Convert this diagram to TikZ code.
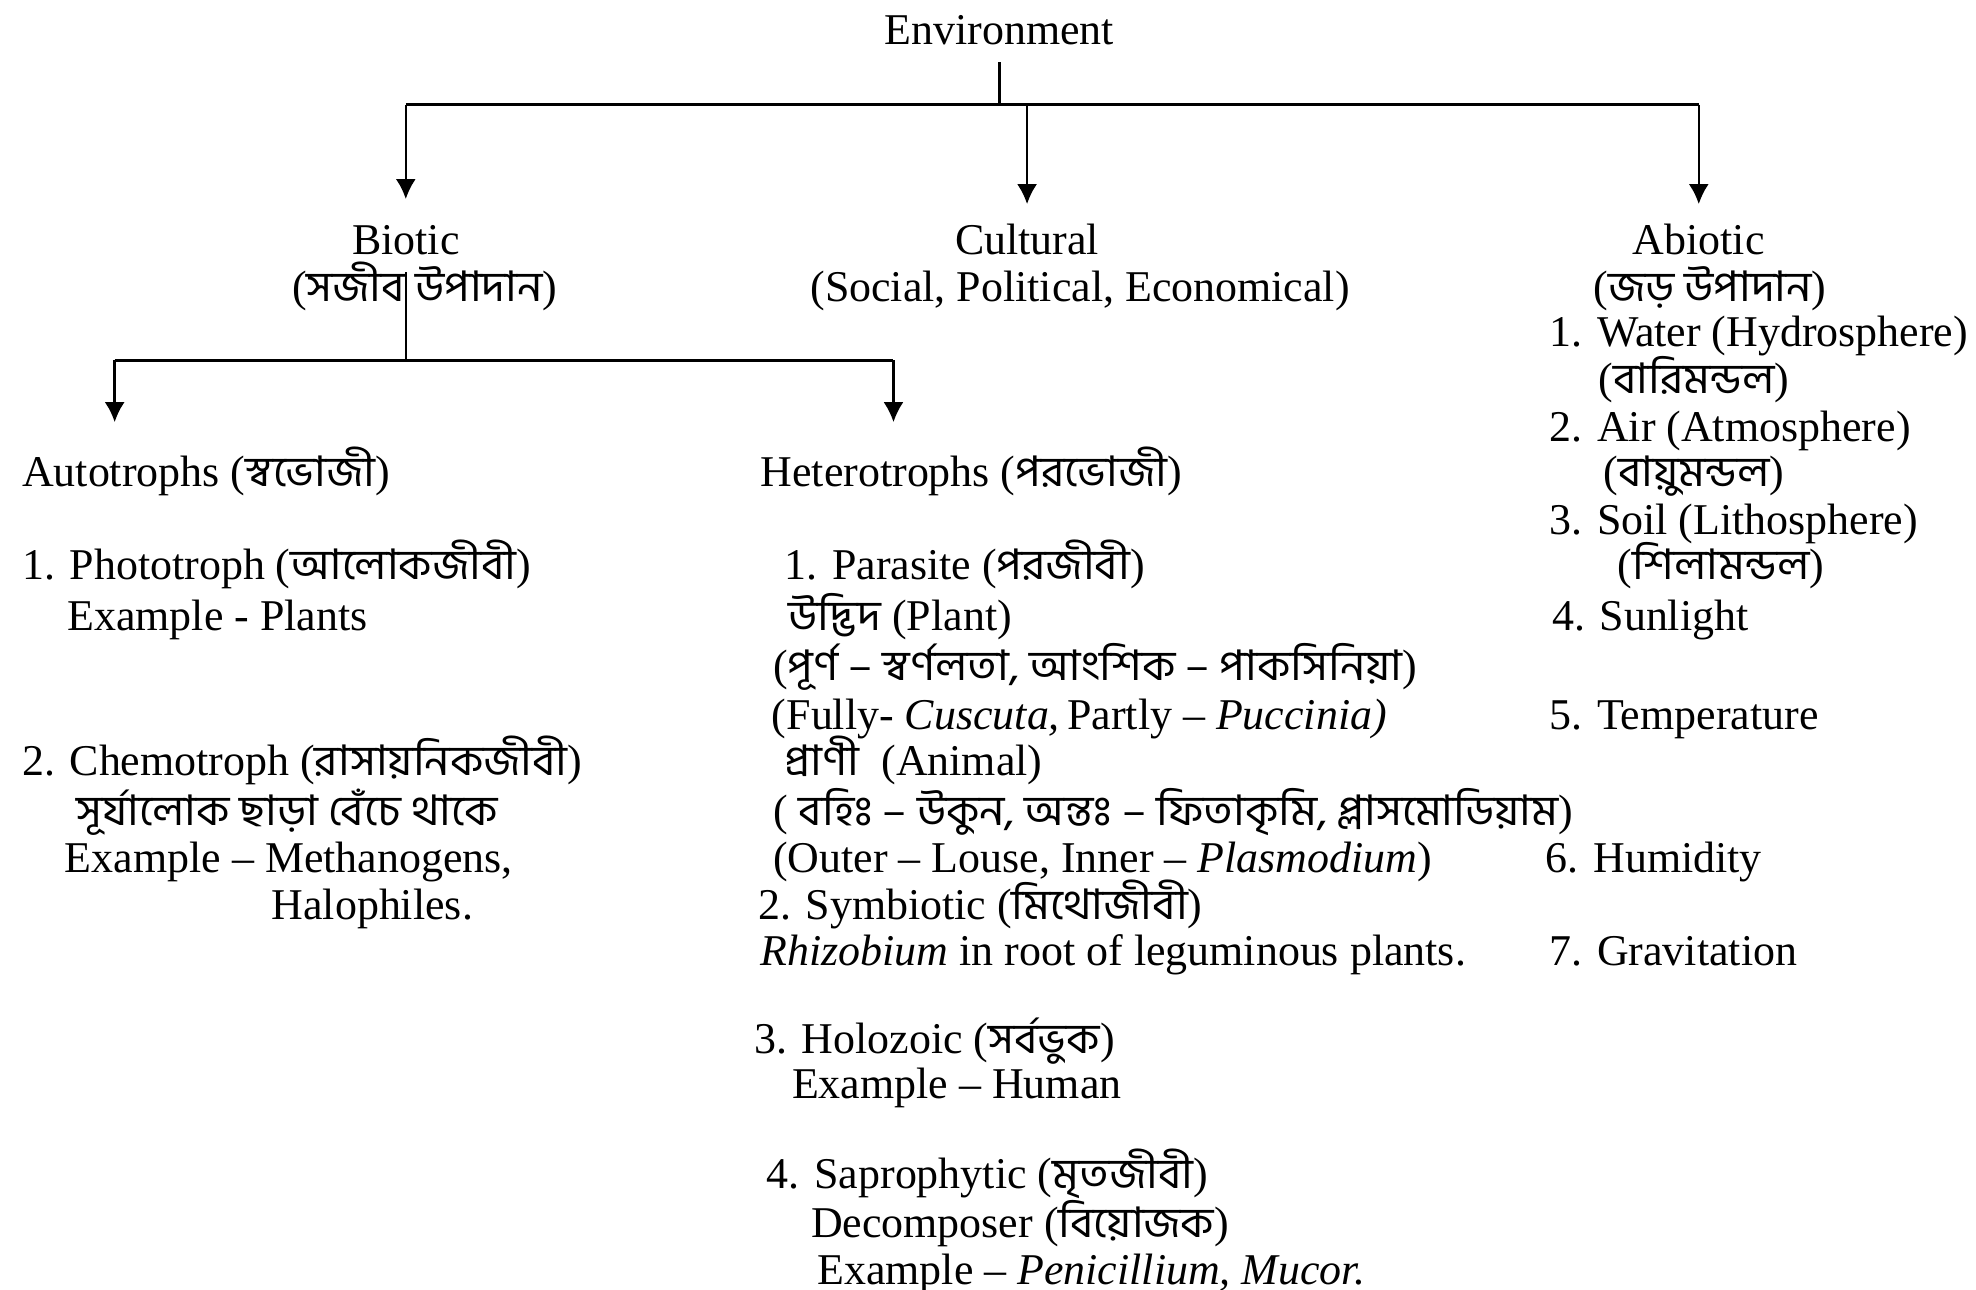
\documentclass[tikz,border=0pt]{standalone}
\usepackage{fontspec}
\setmainfont{Liberation Serif}
\newfontfamily\bn[Script=Bengali,Scale=0.96,FakeStretch=1.06]{Hind Siliguri}
\usetikzlibrary{arrows.meta,calc}
\tikzset{
  line/.style={line width=0.7pt},
  arrow/.style={-{Latex[length=2mm,width=2mm]},line width=0.7pt},
  head/.style={anchor=base,inner sep=0pt,text height=8pt,text depth=2pt,
    font=\fontsize{12.5}{15}\selectfont},
  item/.style={anchor=base west,inner sep=0pt,text height=8pt,text depth=2pt,
    font=\fontsize{12.5}{15}\selectfont}
}

\begin{document}
\begin{tikzpicture}[x=0.12602mm,y=-0.12602mm]
  \useasboundingbox (0,0) rectangle (1568,1023);

  % top level
  \node[head] (env) at (793,35) {Environment};
  \node[head] (biotic) at (322,202) {Biotic};
  \node[head] (bioticbn) at (337,239) {({\bn সজীব উপাদান})};
  \node[head] (cultural) at (815,202) {Cultural};
  \node[head] (culturalsub) at (857,239) {(Social, Political, Economical)};
  \node[head] (abiotic) at (1348,202) {Abiotic};
  \node[head] (abioticbn) at (1357,239) {({\bn জড় উপাদান})};

  \coordinate (bar) at (793,83);
  \draw[line,shorten <=3pt] (env.south) -- (env |- bar);
  \draw[line] (biotic |- bar) -- (abiotic |- bar);
  \draw[arrow] (biotic |- bar) -- ++(0,75);
  \draw[arrow] (cultural |- bar) -- ++(0,79);
  \draw[arrow] (abiotic |- bar) -- ++(0,79);

  % biotic branch
  \coordinate (bbar) at (322,286);
  \coordinate (autotip) at (91,335);
  \coordinate (heterotip) at (709,335);
  \draw[line] (biotic |- bioticbn.north) -- (biotic |- bbar);
  \draw[line] (autotip |- bbar) -- (heterotip |- bbar);
  \draw[arrow] (autotip |- bbar) -- (autotip);
  \draw[arrow] (heterotip |- bbar) -- (heterotip);

  % autotrophs
  \node[item] (auto) at (17,386) {Autotrophs ({\bn স্বভোজী})};
  \node[item] (photo) at (17,460) {1. Phototroph ({\bn আলোকজীবী})};
  \node[item] (photoex) at (53,500) {Example - Plants};
  \node[item] (chemo) at (17,615) {2. Chemotroph ({\bn রাসায়নিকজীবী})};
  \node[item] (chemobn) at (60,655) {\bn সূর্যালোক ছাড়া বেঁচে থাকে};
  \node[item] (chemoex) at (51,692) {Example -- Methanogens,};
  \node[item] (chemoex2) at (215,730) {Halophiles.};

  % heterotrophs
  \node[item] (hetero) at (603,386) {Heterotrophs ({\bn পরভোজী})};
  \node[item] (para) at (622,460) {1. Parasite ({\bn পরজীবী})};
  \node[item] (plant) at (625,500) {{\bn উদ্ভিদ} (Plant)};
  \node[item] (plantbn) at (613,540) {({\bn পূর্ণ – স্বর্ণলতা, আংশিক – পাকসিনিয়া})};
  \node[item] (planten) at (612,579) {(Fully- \textit{Cuscuta,}\,Partly -- \textit{Puccinia)}};
  \node[item] (animal) at (622,615) {{\bn প্রাণী}~ (Animal)};
  \node[item] (animalbn) at (613,655) {( {\bn বহিঃ – উকুন, অন্তঃ – ফিতাকৃমি, প্লাসমোডিয়াম})};
  \node[item] (animalen) at (613,692) {(Outer -- Louse, Inner -- \textit{Plasmodium})};
  \node[item] (symb) at (601,730) {2. Symbiotic ({\bn মিথোজীবী})};
  \node[item] (symbex) at (603,766) {\textit{Rhizobium} in root of leguminous plants.};
  \node[item] (holo) at (598,836) {3. Holozoic ({\bn সর্বভুক})};
  \node[item] (holoex) at (628,872) {Example -- Human};
  \node[item] (sapro) at (608,943) {4. Saprophytic ({\bn মৃতজীবী})};
  \node[item] (decomp) at (643,982) {Decomposer ({\bn বিয়োজক})};
  \node[item] (saproex) at (648,1019) {Example -- \textit{Penicillium, Mucor.}};

  % abiotic
  \node[item] (water) at (1229,275) {1. Water (Hydrosphere)};
  \node[item] (waterbn) at (1268,312) {({\bn বারিমন্ডল})};
  \node[item] (air) at (1229,350) {2. Air (Atmosphere)};
  \node[item] (airbn) at (1272,386) {({\bn বায়ুমন্ডল})};
  \node[item] (soil) at (1229,424) {3. Soil (Lithosphere)};
  \node[item] (soilbn) at (1283,460) {({\bn শিলামন্ডল})};
  \node[item] (sun) at (1231,500) {4. Sunlight};
  \node[item] (temp) at (1229,579) {5. Temperature};
  \node[item] (humid) at (1226,692) {6. Humidity};
  \node[item] (grav) at (1229,766) {7. Gravitation};
\end{tikzpicture}
\end{document}
